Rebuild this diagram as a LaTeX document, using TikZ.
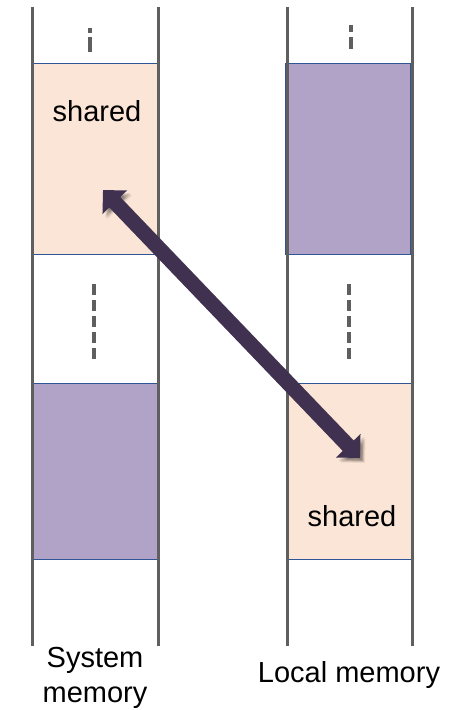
\documentclass[tikz,border=0pt]{standalone}
\usepackage{fontspec}
\setmainfont{Liberation Sans}
\usetikzlibrary{arrows.meta,positioning}

\definecolor{peach}{HTML}{FBE5D6}
\definecolor{lilac}{HTML}{B1A2C7}
\definecolor{plum}{HTML}{403151}
\definecolor{railgray}{HTML}{5F5F5F}
\definecolor{rimblue}{HTML}{2F5597}

\tikzset{
  block/.style={draw=rimblue, line width=0.8pt, anchor=north west, inner sep=0pt,
                minimum width=125pt},
  rail/.style={railgray, line width=3pt},
  gap/.style={railgray, line width=4pt},
  lbl/.style={font=\fontsize{29}{35}\selectfont, inner sep=0pt},
  xfer/.style={plum, line width=15pt,
               {Triangle[length=17pt,width=33pt]}-{Triangle[length=17pt,width=33pt]}}
}

\begin{document}
\begin{tikzpicture}[x=1pt,y=-1pt]
  \useasboundingbox (0,0) rectangle (459,710);

  % memory regions
  \node[block, fill=peach, minimum height=191pt] (sysshared) at (32,63) {};
  \node[block, fill=lilac, minimum height=176pt] (sysother) at (32,383) {};
  \node[block, fill=lilac, minimum height=191pt] (locother) at (285,63) {};
  \node[block, fill=peach, minimum height=176pt] (locshared) at (286,383) {};

  % column walls
  \foreach \x in {32,158,287,412}
    \draw[rail] (\x,7) -- (\x,646);

  % elided address ranges
  \draw[gap, dash pattern=on 5pt off 4pt on 15pt off 20pt] (90,28) -- (90,52);
  \draw[gap, dash pattern=on 7pt off 5pt on 12pt off 20pt] (351,25) -- (351,49);
  \draw[gap, dash pattern=on 11pt off 5pt] (94,284) -- (94,359);
  \draw[gap, dash pattern=on 11pt off 5pt] (349,284) -- (349,359);

  \node[lbl, anchor=base] (syslbl) at (97,121) {shared};
  \node[lbl, anchor=base] (loclbl) at (352,526) {shared};
  \node[lbl, align=center, anchor=north] (sysname) at (95,647) {System\\memory};
  \node[lbl, anchor=base] (locname) at (349,682) {Local memory};

  % mapping between the two shared ranges, with a soft shadow
  \coordinate (sysend) at (103,190);
  \coordinate (locend) at (360,458);
  \foreach \d/\o in {5/0.07,4/0.1,3/0.12}
    \draw[xfer, black, opacity=\o, transform canvas={shift={(\d pt,-\d pt)}}] (sysend) -- (locend);
  \draw[xfer] (sysend) -- (locend);
\end{tikzpicture}
\end{document}
